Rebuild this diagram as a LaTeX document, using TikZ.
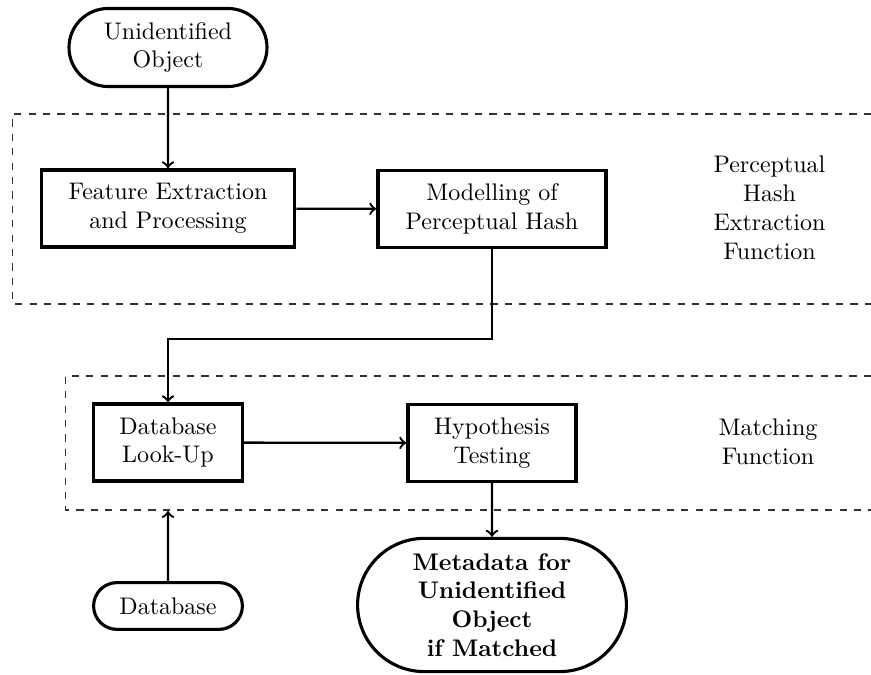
\documentclass[tikz,border=0pt]{standalone}
\usetikzlibrary{shapes.misc,calc}
\begin{document}
\begin{tikzpicture}[x=0.416667pt,y=-0.416667pt,
  procbox/.style={draw,line width=1.5pt,rectangle,align=center,inner sep=2pt},
  termbox/.style={draw,line width=1.3pt,rounded rectangle,align=center,inner sep=2pt},
  grouplbl/.style={align=center},
  conn/.style={->,line width=0.95pt},
  groupline/.style={dashed,line width=0.5pt,black!80}]
\useasboundingbox (0,0) rectangle (871,675);
% dashed groups (open on the right)
\draw[groupline] (871,114) -- (12.5,114) -- (12.5,304) -- (871,304);
\draw[groupline] (871,376) -- (65.5,376) -- (65.5,510) -- (871,510);
% nodes
\node[termbox,minimum width=86.5pt,minimum height=32.5pt] (uo) at (168,47.5) {Unidentified\\Object};
\node[procbox,minimum width=105.5pt,minimum height=32pt] (fe) at (168,208.5) {Feature Extraction\\and Processing};
\node[procbox,minimum width=95pt,minimum height=32pt] (mh) at (492,209) {Modelling of\\Perceptual Hash};
\node[grouplbl] (pl) at (769.5,208) {Perceptual\\Hash\\Extraction\\Function};
\node[procbox,minimum width=62pt,minimum height=32pt] (dl) at (168,442.5) {Database\\Look-Up};
\node[procbox,minimum width=70pt,minimum height=32pt] (ht) at (492,443) {Hypothesis\\Testing};
\node[grouplbl] (ml) at (768,442) {Matching\\Function};
\node[termbox,minimum width=116pt,minimum height=55.5pt,font=\bfseries] (md) at (492,605) {Metadata for\\Unidentified\\Object\\if Matched};
\node[termbox,minimum width=66pt,minimum height=19.5pt] (db) at (168,606) {Database};
\coordinate (k) at (168,339);
\coordinate (dbin) at (168,511);
% connectors
\draw[conn] (uo) -- (fe);
\draw[conn] (fe) -- (mh);
\draw[conn] (mh.south) |- (k) -- (dl.north);
\draw[conn] (dl) -- (ht);
\draw[conn] (ht) -- (md);
\draw[conn] (db) -- (dbin);
\end{tikzpicture}
\end{document}
